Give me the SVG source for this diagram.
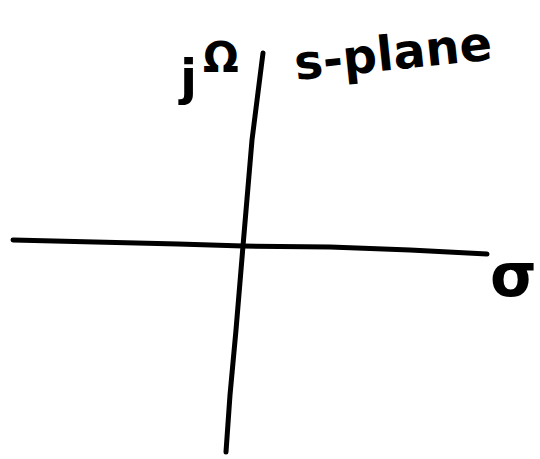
<svg xmlns="http://www.w3.org/2000/svg" width="540" height="459" viewBox="0 0 540 459">
<style>
.ax{fill:none;stroke:#000;stroke-width:5;stroke-linecap:round;stroke-linejoin:round}
.t{font-family:"DejaVu Sans","Liberation Sans",sans-serif;fill:#000;font-weight:bold}
</style>
<rect width="540" height="459" fill="#fff"/>
<g id="connectors">
<path id="real-axis" class="ax" d="M13,240 L95,242 L178,244 L243,246 L330,247 L410,250 L487,254"/>
<path id="imag-axis" class="ax" d="M263,53 L252,140 L243,246 L236,330 L230,395 L226,452"/>
</g>
<g id="label-jomega">
<text class="t" x="180" y="95" font-size="50">j</text>
<text class="t" x="203" y="72" font-size="42">Ω</text>
</g>
<g id="label-splane">
<text class="t" x="296" y="80" font-size="48" transform="rotate(-6 296 80)">s-plane</text>
</g>
<g id="label-sigma">
<text class="t" x="490" y="296" font-size="60">σ</text>
</g>
</svg>
